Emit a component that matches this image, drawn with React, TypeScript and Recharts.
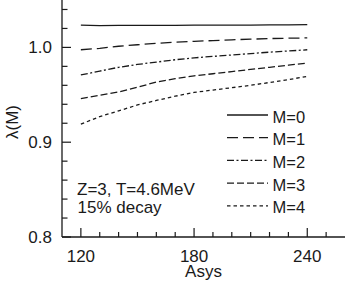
import React from 'react';
import { LineChart, Line, XAxis, YAxis } from 'recharts';

const asys = [120, 130, 140, 150, 160, 170, 180, 190, 200, 210, 220, 230, 240];
const m0 = [1.0235, 1.023, 1.0233, 1.0232, 1.0232, 1.0233, 1.0234, 1.0234, 1.0235, 1.0236, 1.0237, 1.0238, 1.024];
const m1 = [0.9975, 0.999, 1.0012, 1.0028, 1.0043, 1.0055, 1.0064, 1.0072, 1.008, 1.0087, 1.0093, 1.0097, 1.01];
const m2 = [0.971, 0.975, 0.979, 0.982, 0.9845, 0.987, 0.989, 0.9905, 0.992, 0.9935, 0.995, 0.9962, 0.9975];
const m3 = [0.946, 0.9495, 0.953, 0.958, 0.9635, 0.967, 0.97, 0.9722, 0.9745, 0.9768, 0.979, 0.9812, 0.9835];
const m4 = [0.919, 0.927, 0.933, 0.9393, 0.944, 0.9485, 0.9525, 0.955, 0.9575, 0.96, 0.963, 0.966, 0.9695];

const seriesNames = ['M=0', 'M=1', 'M=2', 'M=3', 'M=4'];
const seriesKeys = ['m0', 'm1', 'm2', 'm3', 'm4'];
const seriesValues = [m0, m1, m2, m3, m4];
const seriesDash = ['', '11 5', '7 2.5 2 2.5', '7 3', '3.5 3'];

const xTicks = [120, 130, 140, 150, 160, 170, 180, 190, 200, 210, 220, 230, 240, 250];
const xLabelTicks = [120, 180, 240];
const yTicks = [0.8, 0.82, 0.84, 0.86, 0.88, 0.9, 0.92, 0.94, 0.96, 0.98, 1.0, 1.02, 1.04];
const yLabelTicks = [0.8, 0.9, 1.0];

const data = asys.map((a, i) => {
  const row: Record<string, number> = { asys: a };
  seriesKeys.forEach((k, j) => {
    row[k] = seriesValues[j][i];
  });
  return row;
});

const INK = '#1a1a1a';
const FONT = '"Liberation Sans", Arial, Helvetica, sans-serif';

const isMajorX = (v: number) => xLabelTicks.includes(v);
const isMajorY = (v: number) => yLabelTicks.some((t) => Math.abs(t - v) < 1e-6);

const BottomTick = (props: any) => {
  const { x, y, payload } = props;
  const v = payload.value;
  const major = isMajorX(v);
  return (
    <g>
      <line x1={x} y1={y} x2={x} y2={y - (major ? 9 : 5)} stroke={INK} strokeWidth={1.2} />
      {major && (
        <text x={x} y={y + 24.5} textAnchor="middle" fontSize={17} fontFamily={FONT} fill={INK}>
          {v}
        </text>
      )}
    </g>
  );
};

const TopTick = (props: any) => {
  const { x, y, payload } = props;
  const major = isMajorX(payload.value);
  return <line x1={x} y1={y} x2={x} y2={y + (major ? 9 : 5)} stroke={INK} strokeWidth={1.2} />;
};

const LeftTick = (props: any) => {
  const { x, y, payload } = props;
  const v = payload.value;
  const major = isMajorY(v);
  return (
    <g>
      <line x1={x} y1={y} x2={x + (major ? 9 : 5.5)} y2={y} stroke={INK} strokeWidth={1.2} />
      {major && (
        <text x={x - 10} y={y + 6} textAnchor="end" fontSize={17} fontFamily={FONT} fill={INK}>
          {v.toFixed(1)}
        </text>
      )}
    </g>
  );
};

const RightTick = (props: any) => {
  const { x, y, payload } = props;
  const major = isMajorY(payload.value);
  return <line x1={x} y1={y} x2={x - (major ? 9 : 5.5)} y2={y} stroke={INK} strokeWidth={1.2} />;
};

export default function App() {
  return (
    <div style={{ position: 'absolute', left: 0, top: 0, width: 347, height: 286, background: '#fff' }}>
      <LineChart width={347} height={286} data={data} margin={{ top: 0, right: 2, bottom: 0, left: 0 }}>
        <XAxis
          dataKey="asys"
          type="number"
          domain={[110, 260]}
          ticks={xTicks}
          interval={0}
          tickSize={0}
          tickMargin={0}
          tickLine={false}
          tick={<BottomTick />}
          height={49}
          axisLine={{ stroke: INK, strokeWidth: 1.3 }}
        />
        <XAxis
          xAxisId="top"
          orientation="top"
          dataKey="asys"
          type="number"
          domain={[110, 260]}
          ticks={xTicks}
          interval={0}
          tickSize={0}
          tickMargin={0}
          tickLine={false}
          tick={<TopTick />}
          height={0}
          axisLine={{ stroke: INK, strokeWidth: 1.3 }}
        />
        <YAxis
          type="number"
          domain={[0.8, 1.05]}
          ticks={yTicks}
          interval={0}
          tickSize={0}
          tickMargin={0}
          tickLine={false}
          tick={<LeftTick />}
          width={62}
          axisLine={{ stroke: INK, strokeWidth: 1.3 }}
        />
        <YAxis
          yAxisId="right"
          orientation="right"
          type="number"
          domain={[0.8, 1.05]}
          ticks={yTicks}
          interval={0}
          tickSize={0}
          tickMargin={0}
          tickLine={false}
          tick={<RightTick />}
          width={0}
          axisLine={{ stroke: INK, strokeWidth: 1.3 }}
        />
        {seriesKeys.map((k, i) => (
          <Line
            key={k}
            dataKey={k}
            name={seriesNames[i]}
            type="linear"
            stroke={INK}
            strokeWidth={1.3}
            strokeDasharray={seriesDash[i] || undefined}
            dot={false}
            activeDot={false}
            isAnimationActive={false}
          />
        ))}
      </LineChart>
      <svg
        width={347}
        height={286}
        style={{ position: 'absolute', left: 0, top: 0, pointerEvents: 'none' }}
      >
        <text
          transform="translate(18,122) rotate(-90)"
          textAnchor="middle"
          fontSize={17}
          fontFamily={FONT}
          fill={INK}
        >
          λ(M)
        </text>
        <text x={203.5} y={276.7} textAnchor="middle" fontSize={17} fontFamily={FONT} fill={INK}>
          Asys
        </text>
        <text x={77} y={195} fontSize={17} fontFamily={FONT} fill={INK}>
          Z=3, T=4.6MeV
        </text>
        <text x={77.5} y={212.7} fontSize={17} fontFamily={FONT} fill={INK}>
          15% decay
        </text>
        {seriesNames.map((n, i) => {
          const ly = 115 + i * 22.7;
          return (
            <g key={n}>
              <line
                x1={227}
                x2={268}
                y1={ly}
                y2={ly}
                stroke={INK}
                strokeWidth={1.3}
                strokeDasharray={seriesDash[i] || undefined}
              />
              <text x={272.5} y={ly + 7.5} fontSize={16.5} fontFamily={FONT} fill={INK}>
                {n}
              </text>
            </g>
          );
        })}
      </svg>
    </div>
  );
}
